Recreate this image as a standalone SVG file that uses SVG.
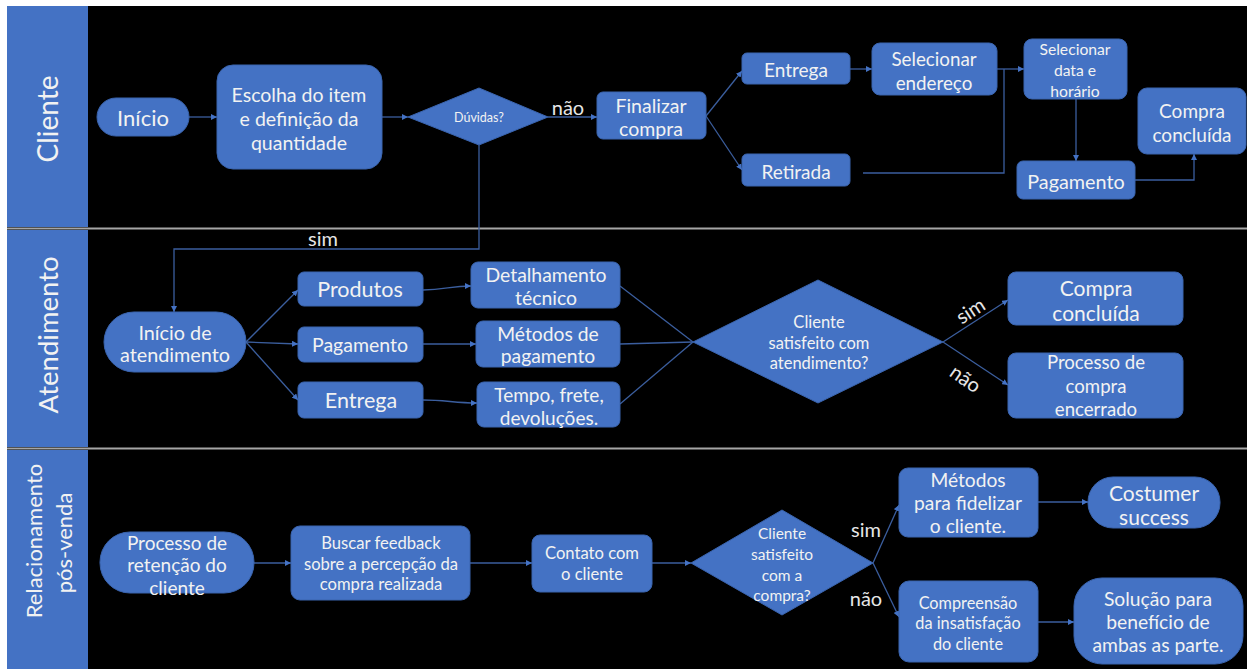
<svg xmlns="http://www.w3.org/2000/svg" width="1250" height="669" viewBox="0 0 1250 669">
<defs>
<marker id="ah" viewBox="0 0 10 10" refX="10" refY="5" markerWidth="6" markerHeight="6" orient="auto" markerUnits="userSpaceOnUse">
<path d="M0,0 L10,5 L0,10 z" fill="#4472C4"/>
</marker>
<style>
.n{fill:#4472C4;stroke:#3A64AE;stroke-width:1}
.t{font-family:Lato,"Open Sans","Liberation Sans",sans-serif;fill:#F2F2F2;text-anchor:middle;dominant-baseline:central}
.c{fill:none;stroke:#3B5E9E;stroke-width:1.3}
.a{marker-end:url(#ah)}
.lb{font-family:Lato,"Open Sans","Liberation Sans",sans-serif;fill:#E6E6E6;text-anchor:middle;dominant-baseline:central;font-size:20px}
.h{font-family:Lato,"Open Sans","Liberation Sans",sans-serif;fill:#F2F2F2;text-anchor:middle;dominant-baseline:central}
</style>
</defs>
<rect x="0" y="0" width="1250" height="669" fill="#FFFFFF"/>
<rect x="7" y="6" width="1240" height="663" fill="#000000"/>
<g id="lanes">
<rect x="7" y="6" width="81" height="221" fill="#4472C4"/>
<rect x="7" y="230" width="81" height="217" fill="#4472C4"/>
<rect x="7" y="450" width="81" height="219" fill="#4472C4"/>
<line x1="7" y1="228.5" x2="1247" y2="228.5" stroke="#A6A6A6" stroke-width="2"/>
<line x1="7" y1="448.5" x2="1247" y2="448.5" stroke="#A6A6A6" stroke-width="2"/>
<text class="h" font-size="28" transform="translate(47,119) rotate(-90)">Cliente</text>
<text class="h" font-size="27.5" transform="translate(47,335) rotate(-90)">Atendimento</text>
<text class="h" font-size="22" transform="translate(33,541) rotate(-90)">Relacionamento</text>
<text class="h" font-size="22" transform="translate(63,543) rotate(-90)">pós-venda</text>
</g>
<g id="connectors">
<line class="c a" x1="189" y1="117" x2="217" y2="117"/>
<line class="c a" x1="382" y1="117" x2="408" y2="117"/>
<line class="c a" x1="548" y1="117" x2="597" y2="117"/>
<line class="c a" x1="706" y1="116" x2="742" y2="71"/>
<line class="c a" x1="706" y1="116" x2="742" y2="170"/>
<line class="c a" x1="850" y1="69" x2="872" y2="69"/>
<line class="c a" x1="997" y1="69" x2="1024" y2="69"/>
<polyline class="c" points="863,173 1004,173 1004,69"/>
<line class="c a" x1="1076" y1="99" x2="1076" y2="161"/>
<polyline class="c a" points="1135,180 1194,180 1194,154"/>
<polyline class="c a" points="479,145 479,249 174,249 174,312"/>
<line class="c a" x1="246" y1="342" x2="298" y2="290"/>
<line class="c a" x1="246" y1="342" x2="298" y2="344"/>
<line class="c a" x1="246" y1="342" x2="298" y2="400"/>
<path class="c a" d="M423,290 C445,290 450,286 471,286"/>
<line class="c a" x1="423" y1="344" x2="476" y2="344"/>
<path class="c a" d="M423,400 C445,400 455,403 477,403"/>
<line class="c" x1="620" y1="286" x2="693" y2="342"/>
<line class="c" x1="620" y1="344" x2="693" y2="342"/>
<line class="c" x1="620" y1="404" x2="693" y2="342"/>
<line class="c a" x1="943" y1="342" x2="1008" y2="300"/>
<line class="c a" x1="943" y1="342" x2="1008" y2="385"/>
<line class="c a" x1="254" y1="563" x2="291" y2="563"/>
<line class="c a" x1="470" y1="563" x2="532" y2="563"/>
<line class="c a" x1="652" y1="563" x2="691" y2="563"/>
<line class="c a" x1="873" y1="563" x2="899" y2="505"/>
<line class="c a" x1="873" y1="563" x2="899" y2="617"/>
<line class="c a" x1="1038" y1="502" x2="1088" y2="502"/>
<line class="c a" x1="1038" y1="622" x2="1074" y2="622"/>
<text class="lb" x="568" y="107" font-size="17">não</text>
<text class="lb" x="323" y="238">sim</text>
<text class="lb" transform="translate(970,310) rotate(-33)">sim</text>
<text class="lb" transform="translate(966,378) rotate(35)">não</text>
<text class="lb" x="866" y="529">sim</text>
<text class="lb" x="866" y="598">não</text>
</g>
<g id="inicio"><rect class="n" x="97" y="98" width="92" height="38" rx="19"/><text class="t" x="143" y="117" font-size="22">Início</text></g>
<g id="escolha"><rect class="n" x="217" y="65" width="165" height="104" rx="16"/><text class="t" font-size="19.5" x="299" y="94">Escolha do item</text><text class="t" font-size="19.5" x="299" y="118">e definição da</text><text class="t" font-size="19.5" x="299" y="142">quantidade</text></g>
<g id="duvidas"><polygon class="n" points="408,117 479,88 548,117 479,145"/><text class="t" x="479" y="117" font-size="12.5">Dúvidas?</text></g>
<g id="finalizar"><rect class="n" x="597" y="92" width="109" height="47" rx="6"/><text class="t" font-size="19.5" x="651" y="105">Finalizar</text><text class="t" font-size="19.5" x="651" y="128">compra</text></g>
<g id="entrega1"><rect class="n" x="742" y="53" width="108" height="31" rx="5"/><text class="t" font-size="19" x="796" y="69">Entrega</text></g>
<g id="retirada"><rect class="n" x="742" y="154" width="108" height="32" rx="5"/><text class="t" font-size="19" x="796" y="171">Retirada</text></g>
<g id="selend"><rect class="n" x="872" y="43" width="125" height="52" rx="8"/><text class="t" font-size="18.8" x="934" y="58">Selecionar</text><text class="t" font-size="18.8" x="934" y="82">endereço</text></g>
<g id="seldata"><rect class="n" x="1024" y="39" width="103" height="60" rx="8"/><text class="t" font-size="15.7" x="1075" y="49">Selecionar</text><text class="t" font-size="15.7" x="1075" y="70">data e</text><text class="t" font-size="15.7" x="1075" y="91">horário</text></g>
<g id="pagamento1"><rect class="n" x="1017" y="161" width="118" height="38" rx="6"/><text class="t" font-size="19.8" x="1076" y="181">Pagamento</text></g>
<g id="compra1"><rect class="n" x="1138" y="88" width="108" height="66" rx="9"/><text class="t" font-size="19" x="1192" y="110">Compra</text><text class="t" font-size="19" x="1192" y="134">concluída</text></g>
<g id="inicioatend"><rect class="n" x="104" y="312" width="142" height="60" rx="30"/><text class="t" font-size="19.8" x="175" y="332">Início de</text><text class="t" font-size="19.8" x="175" y="354">atendimento</text></g>
<g id="produtos"><rect class="n" x="298" y="272" width="125" height="34" rx="6"/><text class="t" font-size="21.5" x="360" y="289">Produtos</text></g>
<g id="pagamento2"><rect class="n" x="298" y="327" width="125" height="35" rx="6"/><text class="t" font-size="19.5" x="360" y="344">Pagamento</text></g>
<g id="entrega2"><rect class="n" x="298" y="382" width="125" height="36" rx="6"/><text class="t" font-size="21.5" x="361" y="400">Entrega</text></g>
<g id="detalhamento"><rect class="n" x="471" y="262" width="149" height="46" rx="7"/><text class="t" font-size="19.4" x="546" y="274">Detalhamento</text><text class="t" font-size="19.4" x="546" y="297">técnico</text></g>
<g id="metodos"><rect class="n" x="476" y="321" width="144" height="46" rx="7"/><text class="t" font-size="19.3" x="548" y="333">Métodos de</text><text class="t" font-size="19.3" x="548" y="355">pagamento</text></g>
<g id="tempo"><rect class="n" x="477" y="382" width="143" height="45" rx="7"/><text class="t" font-size="19" x="549" y="394">Tempo, frete,</text><text class="t" font-size="19" x="549" y="417">devoluções.</text></g>
<g id="satisfeito1"><polygon class="n" points="693,342 818,280 943,342 818,403"/><text class="t" font-size="16.5" x="819" y="322">Cliente</text><text class="t" font-size="16.5" x="819" y="343">satisfeito com</text><text class="t" font-size="16.5" x="819" y="363">atendimento?</text></g>
<g id="compra2"><rect class="n" x="1008" y="272" width="175" height="53" rx="8"/><text class="t" font-size="21" x="1096" y="287">Compra</text><text class="t" font-size="21" x="1096" y="312">concluída</text></g>
<g id="encerrado"><rect class="n" x="1008" y="353" width="175" height="65" rx="8"/><text class="t" font-size="18.6" x="1096" y="362">Processo de</text><text class="t" font-size="18.6" x="1096" y="386">compra</text><text class="t" font-size="18.6" x="1096" y="409">encerrado</text></g>
<g id="retencao"><rect class="n" x="100" y="532" width="154" height="61" rx="30"/><text class="t" font-size="19" x="177" y="542">Processo de</text><text class="t" font-size="19" x="177" y="564">retenção do</text><text class="t" font-size="19" x="177" y="587">cliente</text></g>
<g id="buscar"><rect class="n" x="291" y="526" width="179" height="74" rx="9"/><text class="t" font-size="16.6" x="381" y="543">Buscar feedback</text><text class="t" font-size="16.6" x="381" y="564">sobre a percepção da</text><text class="t" font-size="16.6" x="381" y="584">compra realizada</text></g>
<g id="contato"><rect class="n" x="532" y="535" width="120" height="57" rx="8"/><text class="t" font-size="16.6" x="592" y="553">Contato com</text><text class="t" font-size="16.6" x="592" y="574">o cliente</text></g>
<g id="satisfeito2"><polygon class="n" points="691,563 782,510 873,563 782,615"/><text class="t" font-size="15.5" x="782" y="533">Cliente</text><text class="t" font-size="15.5" x="782" y="554">satisfeito</text><text class="t" font-size="15.5" x="782" y="575">com a</text><text class="t" font-size="15.5" x="782" y="595">compra?</text></g>
<g id="fidelizar"><rect class="n" x="899" y="468" width="139" height="69" rx="9"/><text class="t" font-size="19.2" x="968" y="479">Métodos</text><text class="t" font-size="19.2" x="968" y="502">para fidelizar</text><text class="t" font-size="19.2" x="968" y="525">o cliente.</text></g>
<g id="costumer"><rect class="n" x="1088" y="477" width="132" height="51" rx="25"/><text class="t" font-size="21" x="1154" y="492">Costumer</text><text class="t" font-size="21" x="1154" y="516">success</text></g>
<g id="compreensao"><rect class="n" x="899" y="581" width="139" height="81" rx="10"/><text class="t" font-size="16.3" x="968" y="602">Compreensão</text><text class="t" font-size="16.3" x="968" y="622">da insatisfação</text><text class="t" font-size="16.3" x="968" y="643">do cliente</text></g>
<g id="solucao"><rect class="n" x="1074" y="578" width="169" height="86" rx="28"/><text class="t" font-size="19.3" x="1158" y="598">Solução para</text><text class="t" font-size="19.3" x="1158" y="621">benefício de</text><text class="t" font-size="19.3" x="1158" y="644">ambas as parte.</text></g>
</svg>
